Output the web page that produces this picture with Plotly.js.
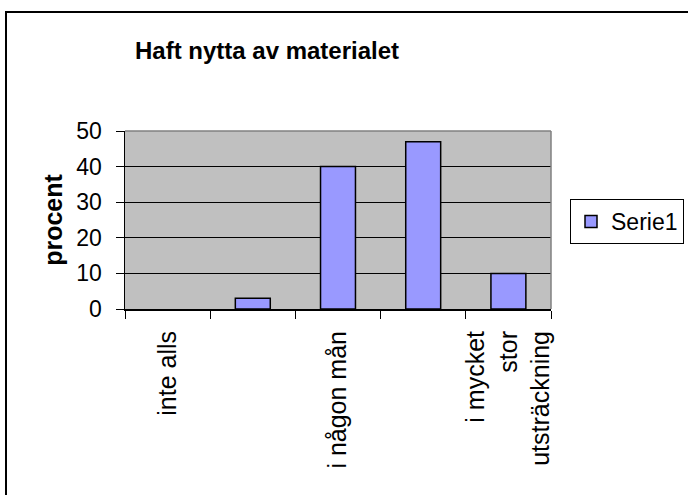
<!DOCTYPE html>
<html>
<head>
<meta charset="utf-8">
<script src="https://cdn.plot.ly/plotly-3.0.1.min.js"></script>
<style>
  html, body { margin: 0; padding: 0; overflow: hidden; background: #fff; }
  #chart { width: 688px; height: 495px; position: absolute; left: 0; top: 0; }
  #frame { position: absolute; left: 5px; top: 11px; width: 700px; height: 500px;
           border: 2px solid #000; pointer-events: none; box-sizing: border-box; }
</style>
</head>
<body>
<div id="chart"></div>
<div id="frame"></div>
<script>
const categories = ["inte alls", " ", "i någon mån", "  ", "i mycket<br>stor<br>utsträckning"];
const serie1 = [0, 3, 40, 47, 10];
const seriesName = "Serie1";
const chartTitle = "Haft nytta av materialet";
const yTitle = "procent";

// Points are fed in reverse order (axis order is fixed by categoryarray) so the
// legend swatch takes its outline from a non-empty bar; the zero bar gets no outline.
const xs = categories.slice().reverse();
const ys = serie1.slice().reverse();
const outlineWidths = ys.map(v => v === 0 ? 0 : 1.5);

const trace = {
  type: 'bar',
  x: xs,
  y: ys,
  name: seriesName,
  width: 0.41,
  marker: { color: '#9999ff', line: { color: '#000', width: outlineWidths } },
  showlegend: true,
  hoverinfo: 'x+y'
};

const layout = {
  width: 688, height: 495,
  margin: { l: 125, r: 137, t: 131, b: 186, pad: 0, autoexpand: false },
  paper_bgcolor: '#ffffff',
  plot_bgcolor: '#c0c0c0',
  font: { family: 'Liberation Sans, Arial, sans-serif', color: '#000' },
  title: {
    text: chartTitle,
    font: { family: 'Liberation Sans, Arial, sans-serif', size: 24, weight: 'bold', color: '#000' },
    x: 267/688, xref: 'container', xanchor: 'center',
    y: 1 - 51/495, yref: 'container', yanchor: 'middle'
  },
  xaxis: {
    type: 'category',
    categoryorder: 'array',
    categoryarray: categories,
    tickson: 'boundaries',
    ticks: 'outside', ticklen: 8, tickcolor: '#000', tickwidth: 1,
    tickangle: -90,
    tickfont: { size: 25, color: '#000' },
    ticklabelstandoff: 10,
    showline: true, linecolor: '#000', linewidth: 2,
    showgrid: false, zeroline: false,
    automargin: false
  },
  yaxis: {
    range: [0, 50], dtick: 10, tick0: 0,
    ticks: 'outside', ticklen: 8, tickcolor: '#000', tickwidth: 1,
    tickfont: { size: 23, color: '#000' },
    ticklabelstandoff: 9,
    showline: true, linecolor: '#000', linewidth: 1.5,
    showgrid: true, gridcolor: '#000', gridwidth: 1,
    zeroline: false,
    automargin: false,
    title: { text: yTitle, font: { size: 25, weight: 'bold', color: '#000' }, standoff: 6 }
  },
  legend: {
    x: (570-125)/426, xanchor: 'left',
    y: (309-199)/178, yanchor: 'top',
    bordercolor: '#000', borderwidth: 1, bgcolor: '#fff',
    font: { size: 23, color: '#000' },
    itemwidth: 30
  },
  shapes: [
    { type: 'line', xref: 'paper', yref: 'paper', x0: 0, x1: 1, y0: 1, y1: 1, line: { color: '#808080', width: 1.5 }, layer: 'above' },
    { type: 'line', xref: 'paper', yref: 'paper', x0: 1, x1: 1, y0: 0, y1: 1, line: { color: '#808080', width: 1.5 }, layer: 'above' }
  ]
};

Plotly.newPlot('chart', [trace], layout, { displayModeBar: false, staticPlot: true });
</script>
</body>
</html>
